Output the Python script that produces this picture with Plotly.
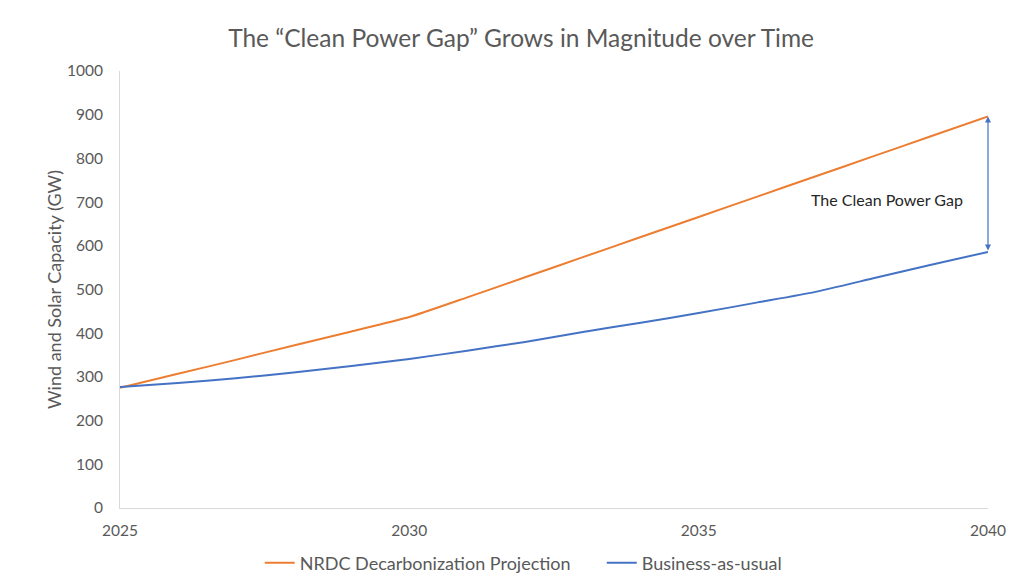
import plotly.graph_objects as go

years = list(range(2025, 2041))
nrdc = [275, 307, 339, 372, 404, 437, 482, 528, 574, 620, 666, 712, 758, 804, 850, 896]
bau = [277, 286, 297, 310, 325, 341, 360, 380, 403, 424, 446, 470, 494, 525, 556, 586]
x_ticks = [2025, 2030, 2035, 2040]
y_ticks = list(range(0, 1001, 100))

FONT = "Lato"
GRAY = "#595959"

fig = go.Figure()
fig.add_trace(go.Scatter(x=years, y=nrdc, mode="lines", name="NRDC Decarbonization Projection",
                         line=dict(color="#ED7D31", width=2, shape="spline", smoothing=0.5)))
fig.add_trace(go.Scatter(x=years, y=bau, mode="lines", name="Business-as-usual",
                         line=dict(color="#4472C4", width=2, shape="spline", smoothing=0.5)))

fig.add_annotation(x=years[-1], y=nrdc[-1], ax=years[-1], ay=bau[-1], axref="x", ayref="y",
                   xref="x", yref="y", text="", showarrow=True, arrowhead=2, arrowside="end+start",
                   arrowsize=1, arrowwidth=1.2, arrowcolor="#4472C4", standoff=0, startstandoff=0)
fig.add_annotation(x=2038.25, y=707, xref="x", yref="y",
                   text="The Clean Power Gap", showarrow=False,
                   font=dict(family=FONT, size=16, color="#262626"))

fig.update_layout(
    width=1016, height=573,
    margin=dict(l=112, r=36, t=63, b=73, autoexpand=False),
    paper_bgcolor="white", plot_bgcolor="white",
    title=dict(text="The “Clean Power Gap” Grows in Magnitude over Time", x=0.505, xanchor="center",
               y=0.9476, yanchor="middle", font=dict(family=FONT, size=24.5, color=GRAY)),
    font=dict(family=FONT, color=GRAY, size=15),
    xaxis=dict(range=[2025, 2040], tickvals=x_ticks, showgrid=False, zeroline=False,
               showline=True, linecolor="#D9D9D9", linewidth=1, ticks="", automargin=False,
               ticklabelstandoff=8, tickfont=dict(size=15.5, color=GRAY)),
    yaxis=dict(range=[0, 1000], tickvals=y_ticks, showgrid=False, zeroline=False,
               showline=True, linecolor="#D9D9D9", linewidth=1, ticks="", automargin=False,
               ticklabelstandoff=13, tickfont=dict(size=15.5, color=GRAY),
               title=dict(text="Wind and Solar Capacity (GW)", font=dict(size=18, color=GRAY), standoff=0)),
    legend=dict(orientation="h", x=0.161, xanchor="left", y=-0.126, yanchor="middle",
                font=dict(size=18, color=GRAY), itemwidth=30, entrywidth=297, entrywidthmode="pixels"),
    showlegend=True,
)

fig.write_html("out.html")
